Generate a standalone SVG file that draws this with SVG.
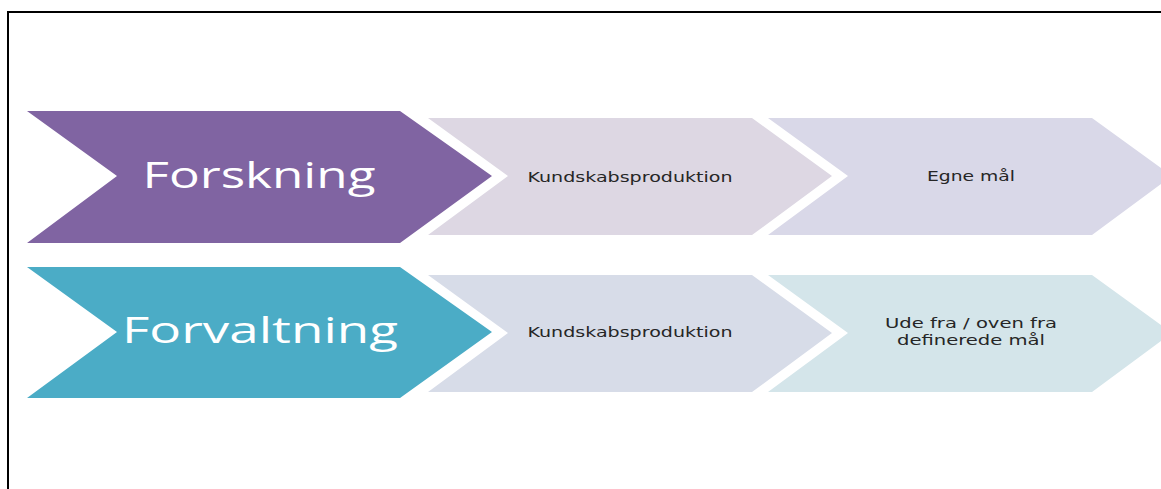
<svg xmlns="http://www.w3.org/2000/svg" width="1161" height="489" viewBox="0 0 1161 489">
<style>
.big{font-family:"Open Sans","Liberation Sans",sans-serif;font-size:37px;fill:#ffffff;text-anchor:middle}
.small{font-family:"DejaVu Sans","Liberation Sans",sans-serif;font-size:14px;fill:#262626;text-anchor:middle}
</style>
<rect width="1161" height="489" fill="#ffffff"/>
<path d="M8,489 L8,12 L1161,12" fill="none" stroke="#000000" stroke-width="2"/>
<g id="forskning">
<path d="M27,111 L400,111 L492,176 L400,243 L27,243 L117,176 Z" fill="#8064A2"/>
<text class="big" x="259" y="188" textLength="233" lengthAdjust="spacingAndGlyphs">Forskning</text>
</g>
<g id="kundskab1">
<path d="M428,118 L752,118 L832,176 L752,235 L428,235 L508,176 Z" fill="#DDD7E3"/>
<text class="small" x="630" y="182" textLength="205" lengthAdjust="spacingAndGlyphs">Kundskabsproduktion</text>
</g>
<g id="egne">
<path d="M768,118 L1092,118 L1172,176 L1092,235 L768,235 L848,176 Z" fill="#D9D8E8"/>
<text class="small" x="971" y="181" textLength="88" lengthAdjust="spacingAndGlyphs">Egne mål</text>
</g>
<g id="forvaltning">
<path d="M27,267 L400,267 L492,332 L400,398 L27,398 L117,332 Z" fill="#4BACC6"/>
<text class="big" x="260" y="343" textLength="276" lengthAdjust="spacingAndGlyphs">Forvaltning</text>
</g>
<g id="kundskab2">
<path d="M428,275 L752,275 L832,333 L752,392 L428,392 L508,333 Z" fill="#D7DCE8"/>
<text class="small" x="630" y="337" textLength="205" lengthAdjust="spacingAndGlyphs">Kundskabsproduktion</text>
</g>
<g id="udefra">
<path d="M768,275 L1092,275 L1172,333 L1092,392 L768,392 L848,333 Z" fill="#D4E5EA"/>
<text class="small" x="971" y="328" textLength="172" lengthAdjust="spacingAndGlyphs">Ude fra / oven fra</text>
<text class="small" x="971" y="345" textLength="148" lengthAdjust="spacingAndGlyphs">definerede mål</text>
</g>
<g id="connectors"></g>
</svg>
